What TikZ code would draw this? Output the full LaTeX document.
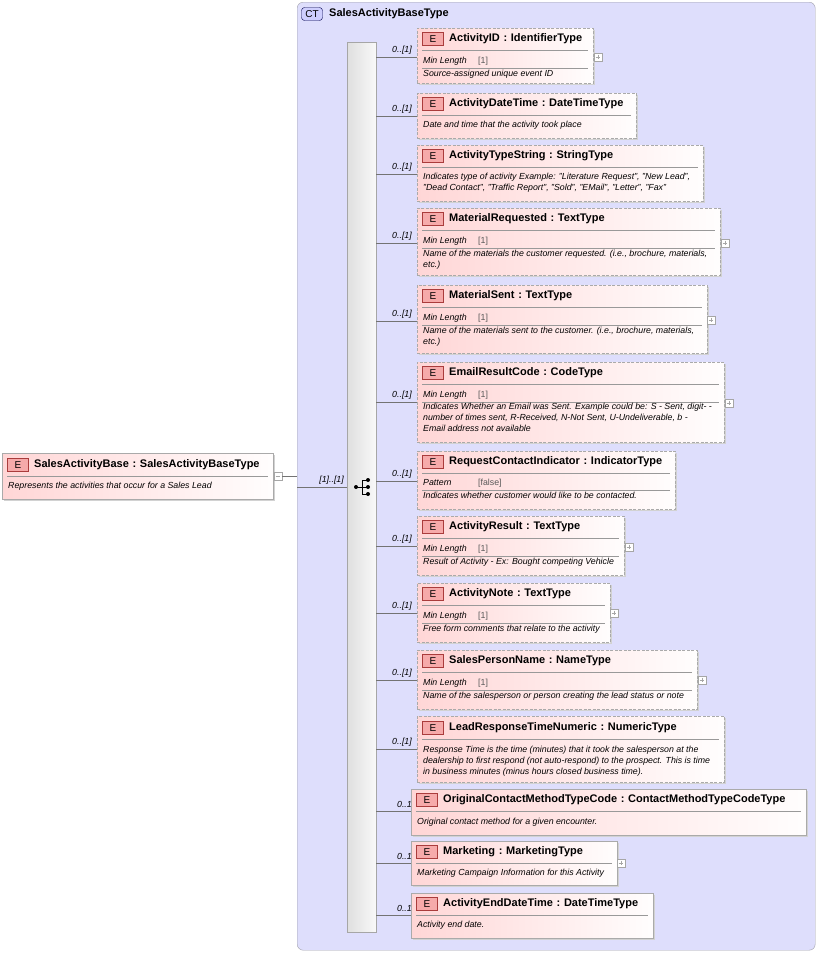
\documentclass[tikz,border=0pt]{standalone}
\usepackage{fontspec}
\setmainfont{Liberation Sans}
\definecolor{ctfill}{RGB}{222,222,252}
\definecolor{ctline}{RGB}{160,160,170}
\definecolor{elpink}{RGB}{255,214,214}
\definecolor{elline}{RGB}{170,170,170}
\definecolor{iconfill}{RGB}{246,170,170}
\definecolor{iconline}{RGB}{170,60,60}
\tikzset{
 elbox/.style={draw=elline,dashed,dash pattern=on 3pt off 1.5pt,left color=elpink,right color=white!96!elpink,anchor=north west,inner sep=0pt},
 solidbox/.style={draw=elline,left color=elpink,right color=white!96!elpink,anchor=north west,inner sep=0pt},
 icon/.style={draw=iconline,fill=iconfill,minimum width=21pt,minimum height=13pt,inner sep=0pt,font=\fontsize{10}{10}\selectfont},
 ttl/.style={anchor=west,inner sep=0pt,font=\bfseries\fontsize{11}{12}\selectfont},
 desc/.style={anchor=north west,inner sep=0pt,align=left,font=\itshape\fontsize{8.8}{11}\selectfont},
 fac/.style={anchor=west,inner sep=0pt,font=\itshape\fontsize{8.8}{9}\selectfont},
 facv/.style={anchor=west,inner sep=0pt,text=gray!70!black,font=\fontsize{8.8}{9}\selectfont},
 mult/.style={anchor=east,inner sep=0pt,font=\itshape\fontsize{8.8}{9}\selectfont},
 sep/.style={draw=gray!80},
 conn/.style={draw=gray!90!black,line width=0.5pt},
 pm/.style={draw=gray!70,fill=white,minimum size=8pt,inner sep=0pt,line width=0.4pt},
}
\newcommand\El[8][elbox]{%
 \fill[gray!35] (#3+2,#4+2) rectangle (#5+2,#6+2);
 \node[#1,minimum width=#5-#3,minimum height=#6-#4] (#2) at (#3,#4) {};
 \node[icon] (#2i) at (#3+16,#8) {E};
 \node[ttl] (#2t) at (#3+32,#8) {#7};
 \draw[sep] (#3+5,#8+11) -- (#5-5,#8+11);
}
\newcommand\Fac[5]{%
 \node[fac] at (#1+6,#3) {#4};
 \node[facv] at (#1+61,#3) {#5};
 \draw[sep] (#1+5,#3+7) -- (#2-5,#3+7);
}
\newcommand\Desc[3]{\node[desc] at (#1+6,#2-5) {#3};}
\newcommand\Plus[3]{\node[pm] (#1) at (#2,#3) {}; \draw[gray!70,line width=0.4pt] (#2-2.4,#3) -- (#2+2.4,#3) (#2,#3-2.4) -- (#2,#3+2.4);}
\begin{document}
\begin{tikzpicture}[x=1pt,y=-1pt]
\useasboundingbox (0,0) rectangle (819,953);
\node[draw=ctline,fill=ctfill,rounded corners=6pt,anchor=north west,minimum width=518,minimum height=948,inner sep=0pt] (ct) at (297,2) {};
\node[draw=blue!30!black,fill=ctfill!60!blue!40,rounded corners=3pt,minimum width=21pt,minimum height=13pt,inner sep=0pt,font=\fontsize{10}{10}\selectfont] (cti) at (312,14) {CT};
\node[ttl] (ctt) at (329,14) {SalesActivityBaseType};
\node[draw=gray!70,left color=gray!25,right color=gray!5,anchor=north west,minimum width=29,minimum height=890,inner sep=0pt] (seq) at (347,42) {};
\draw[line width=0.7pt] (356,487) -- (362,487) (362,480) -- (362,494) (362,480) -- (368,480) (362,487) -- (368,487) (362,494) -- (368,494);
\fill (356,487) circle (2pt) (368,480) circle (2pt) (368,487) circle (2pt) (368,494) circle (2pt);
\El[solidbox]{root}{2}{453}{273}{499}{SalesActivityBase\,\,:\,\,SalesActivityBaseType}{465}
\Desc{2}{487}{Represents the activities that occur for a Sales Lead}
\node[pm] (minus) at (278,476) {};
\draw[gray!70,line width=0.4pt] (275.6,476) -- (280.4,476);
\coordinate (ra) at (297,476);
\coordinate (rb) at (297,487);
\draw[conn] (minus) -- (ra);
\draw[conn] (rb) -- (seq.west |- rb);
\node[mult] at (344,480) {[1]..[1]};
\El{e1}{417}{28}{593}{83}{ActivityID\,\,:\,\,IdentifierType}{39}
\Fac{417}{593}{61}{Min Length}{[1]}
\Desc{417}{75}{Source-assigned unique event ID}
\Plus{p1}{598}{57}
\El{e2}{417}{93}{636}{138}{ActivityDateTime\,\,:\,\,DateTimeType}{104}
\Desc{417}{126}{Date and time that the activity took place}
\El{e3}{417}{145}{703}{201}{ActivityTypeString\,\,:\,\,StringType}{156}
\Desc{417}{178}{Indicates type of activity Example: "Literature Request", "New Lead",\\"Dead Contact", "Traffic Report", "Sold", "EMail", "Letter", "Fax"}
\El{e4}{417}{208}{720}{275}{MaterialRequested\,\,:\,\,TextType}{219}
\Fac{417}{720}{241}{Min Length}{[1]}
\Desc{417}{255}{Name of the materials the customer requested. (i.e., brochure, materials,\\etc.)}
\Plus{p4}{725}{243}
\El{e5}{417}{285}{707}{353}{MaterialSent\,\,:\,\,TextType}{296}
\Fac{417}{707}{318}{Min Length}{[1]}
\Desc{417}{332}{Name of the materials sent to the customer. (i.e., brochure, materials,\\etc.)}
\Plus{p5}{711}{320}
\El{e6}{417}{362}{724}{442}{EmailResultCode\,\,:\,\,CodeType}{373}
\Fac{417}{724}{395}{Min Length}{[1]}
\Desc{417}{408}{Indicates Whether an Email was Sent. Example could be: S - Sent, digit- -\\number of times sent, R-Received, N-Not Sent, U-Undeliverable, b -\\Email address not available}
\Plus{p6}{729}{403}
\El{e7}{417}{451}{675}{509}{RequestContactIndicator\,\,:\,\,IndicatorType}{462}
\Fac{417}{675}{483}{Pattern}{[false]}
\Desc{417}{497}{Indicates whether customer would like to be contacted.}
\El{e8}{417}{516}{624}{575}{ActivityResult\,\,:\,\,TextType}{527}
\Fac{417}{624}{549}{Min Length}{[1]}
\Desc{417}{563}{Result of Activity - Ex: Bought competing Vehicle}
\Plus{p8}{629}{547}
\El{e9}{417}{583}{610}{642}{ActivityNote\,\,:\,\,TextType}{594}
\Fac{417}{610}{616}{Min Length}{[1]}
\Desc{417}{630}{Free form comments that relate to the activity}
\Plus{p9}{614}{613}
\El{e10}{417}{650}{697}{709}{SalesPersonName\,\,:\,\,NameType}{661}
\Fac{417}{697}{683}{Min Length}{[1]}
\Desc{417}{697}{Name of the salesperson or person creating the lead status or note}
\Plus{p10}{702}{680}
\El{e11}{417}{716}{724}{782}{LeadResponseTimeNumeric\,\,:\,\,NumericType}{728}
\Desc{417}{751}{Response Time is the time (minutes) that it took the salesperson at the\\dealership to first respond (not auto-respond) to the prospect. This is time\\in business minutes (minus hours closed business time).}
\El[solidbox]{e12}{411}{789}{806}{835}{OriginalContactMethodTypeCode\,\,:\,\,ContactMethodTypeCodeType}{800}
\Desc{411}{823}{Original contact method for a given encounter.}
\El[solidbox]{e13}{411}{841}{617}{885}{Marketing\,\,:\,\,MarketingType}{852}
\Desc{411}{874}{Marketing Campaign Information for this Activity}
\Plus{p13}{621}{863}
\El[solidbox]{e14}{411}{893}{653}{938}{ActivityEndDateTime\,\,:\,\,DateTimeType}{904}
\Desc{411}{926}{Activity end date.}
\foreach \i/\y/\m in {1/57/0..[1],2/116/0..[1],3/174/0..[1],4/243/0..[1],5/321/0..[1],6/402/0..[1],7/481/0..[1],8/546/0..[1],9/613/0..[1],10/680/0..[1],11/749/0..[1],12/811/0..1,13/863/0..1,14/915/0..1}{
 \coordinate (c\i) at (376,\y);
 \draw[conn] (c\i) -- (e\i.west |- c\i);
 \node[mult] at (412,\y-7) {\m};
}
\end{tikzpicture}
\end{document}
